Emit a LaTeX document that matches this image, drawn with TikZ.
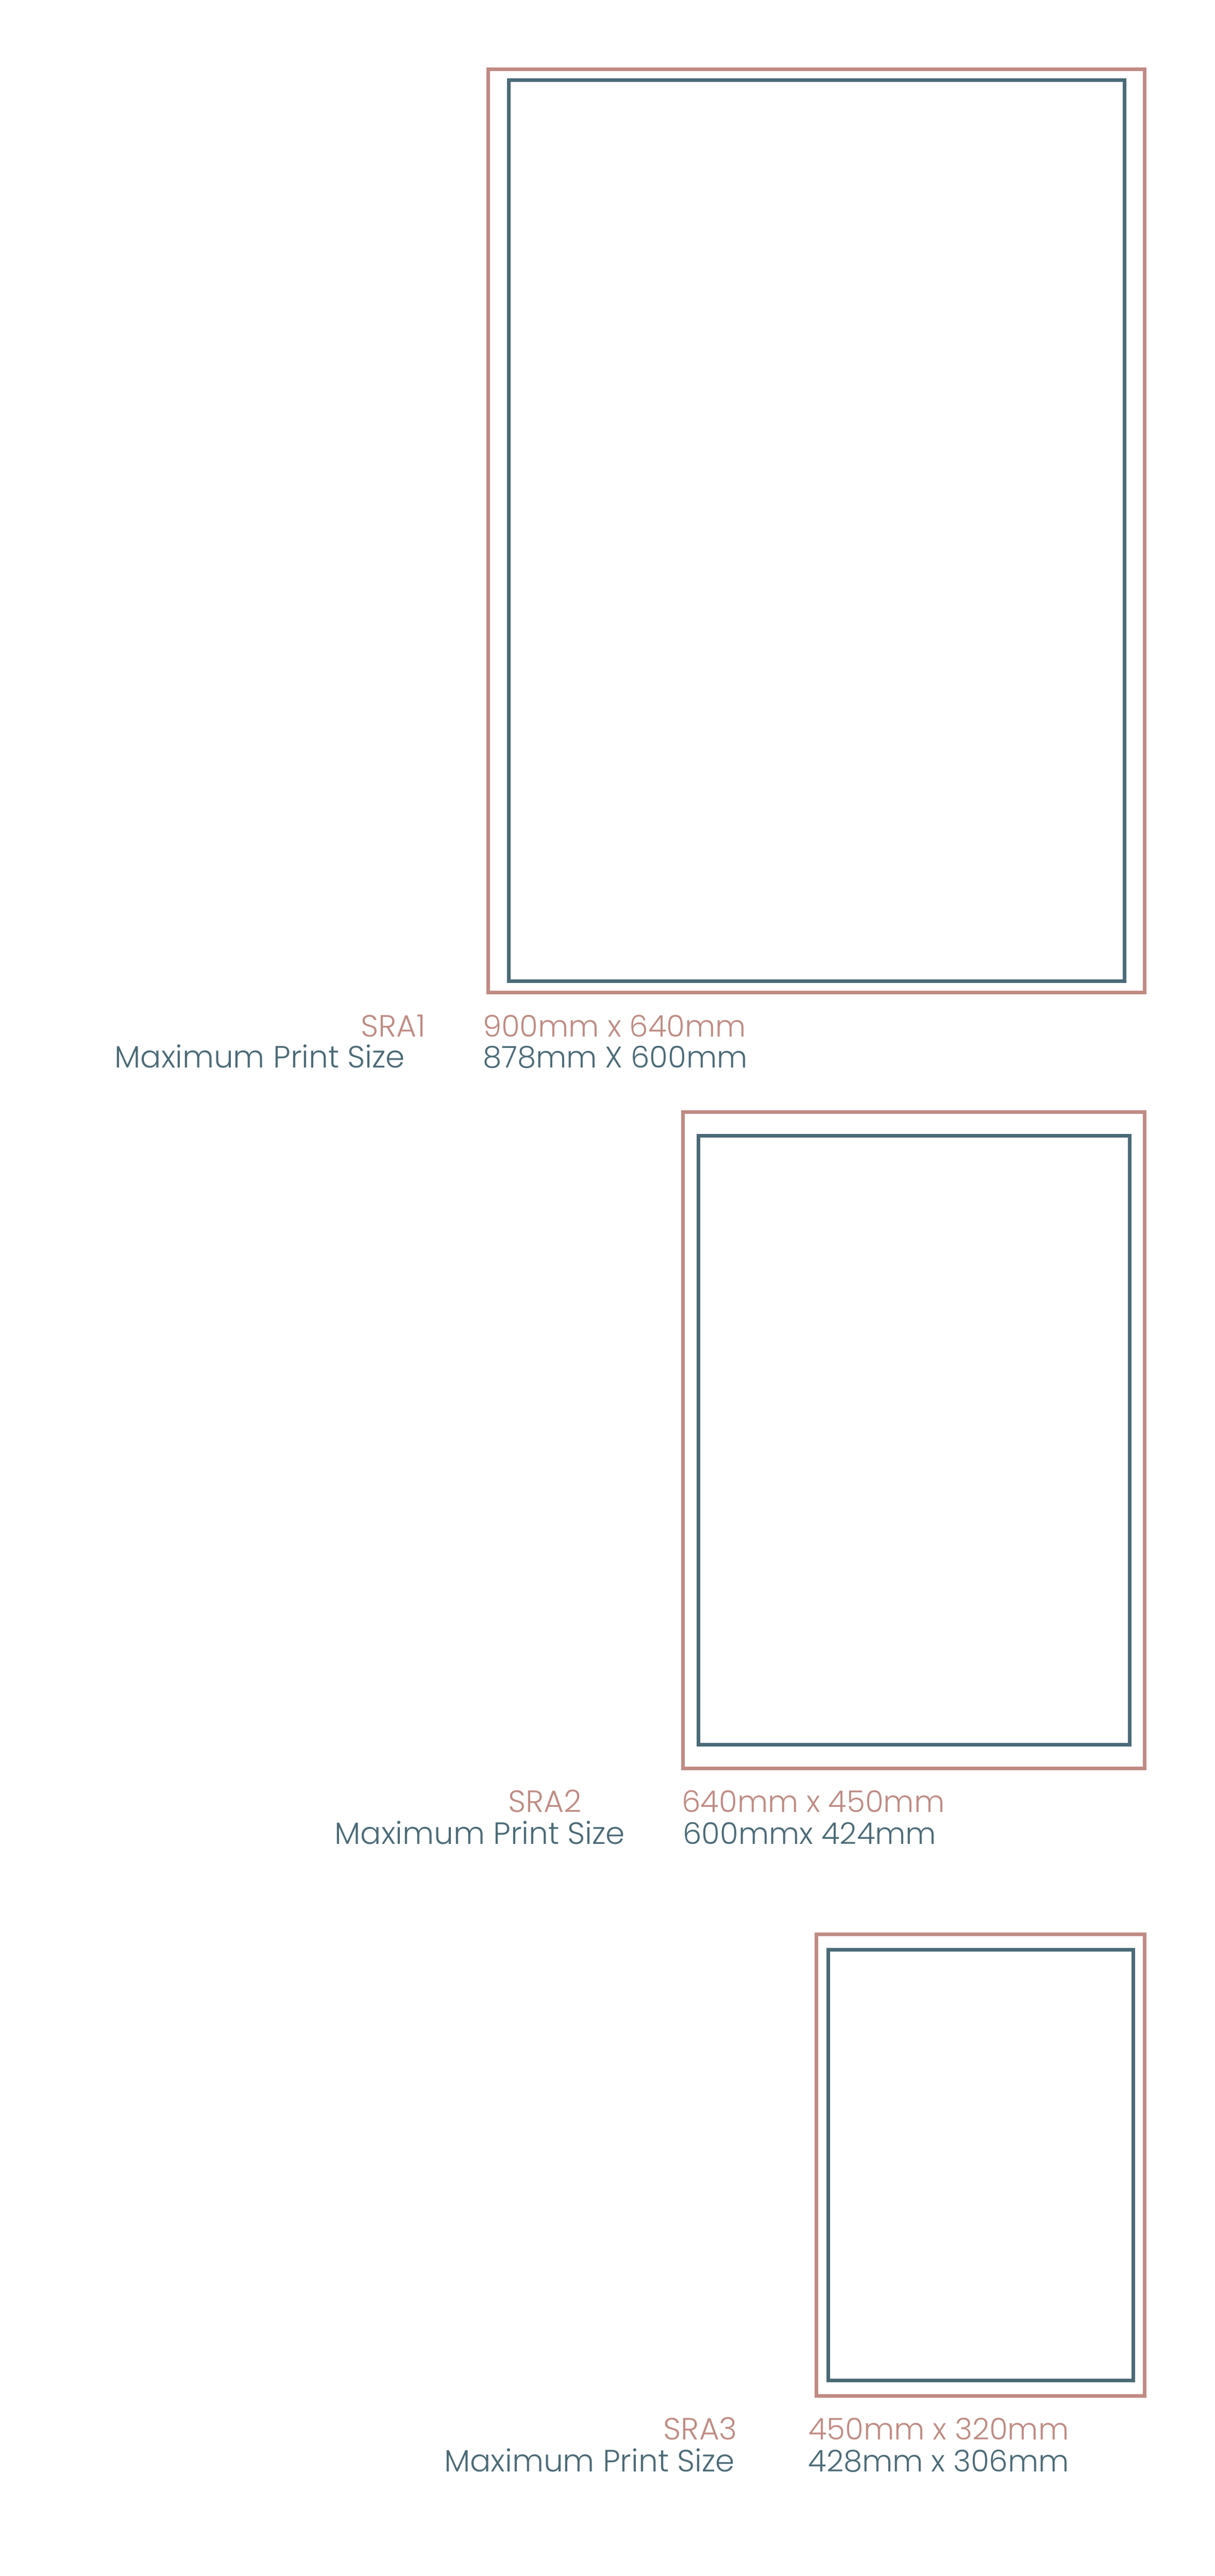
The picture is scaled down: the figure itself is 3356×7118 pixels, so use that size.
\documentclass[tikz,border=0pt]{standalone}
\usepackage{fontspec}
\setmainfont{Poppins Light}
\definecolor{rosec}{RGB}{192,139,131}
\definecolor{slatec}{RGB}{74,107,119}
\begin{document}
\begin{tikzpicture}[x=0.2pt,y=-0.2pt,
  outerbox/.style={draw=rosec,line width=2pt},
  innerbox/.style={draw=slatec,line width=2pt},
  lbl/.style={inner sep=0pt,font=\fontsize{17}{20}\selectfont},
  dimlbl/.style={inner sep=0pt,font=\fontsize{16.5}{20}\selectfont},
  rosetxt/.style={lbl,text=rosec},
  slatetxt/.style={lbl,text=slatec},
  rosedim/.style={dimlbl,text=rosec},
  slatedim/.style={dimlbl,text=slatec}]
\useasboundingbox[fill=white] (0,0) rectangle (3356,7118);
% SRA1
\draw[outerbox] (1349,191) rectangle (3163,2742);
\draw[innerbox] (1405.5,222) rectangle (3106.7,2710.7);
\node[rosetxt,anchor=base east] (n1) at (1177,2865) {SRA1};
\node[rosedim,anchor=base west] (d1) at (1333,2865) {900mm x 640mm};
\node[slatetxt,anchor=base east] (m1) at (1120,2950) {Maximum Print Size};
\node[slatedim,anchor=base west] (p1) at (1333,2950) {878mm X 600mm};
% SRA2
\draw[outerbox] (1887,3072.7) rectangle (3163,4886.3);
\draw[innerbox] (1930,3137.7) rectangle (3120.7,4821.3);
\node[rosetxt,anchor=base east] (n2) at (1608,5008) {SRA2};
\node[rosedim,anchor=base west] (d2) at (1883,5008) {640mm x 450mm};
\node[slatetxt,anchor=base east] (m2) at (1728,5096) {Maximum Print Size};
\node[slatedim,anchor=base west] (p2) at (1886,5096) {600mmx 424mm};
% SRA3
\draw[outerbox] (2256,5345) rectangle (3163,6620.3);
\draw[innerbox] (2288.3,5387.3) rectangle (3130.7,6578);
\node[rosetxt,anchor=base east] (n3) at (2038,6742) {SRA3};
\node[rosedim,anchor=base west] (d3) at (2233,6742) {450mm x 320mm};
\node[slatetxt,anchor=base east] (m3) at (2031,6830) {Maximum Print Size};
\node[slatedim,anchor=base west] (p3) at (2232,6830) {428mm x 306mm};
\end{tikzpicture}
\end{document}
